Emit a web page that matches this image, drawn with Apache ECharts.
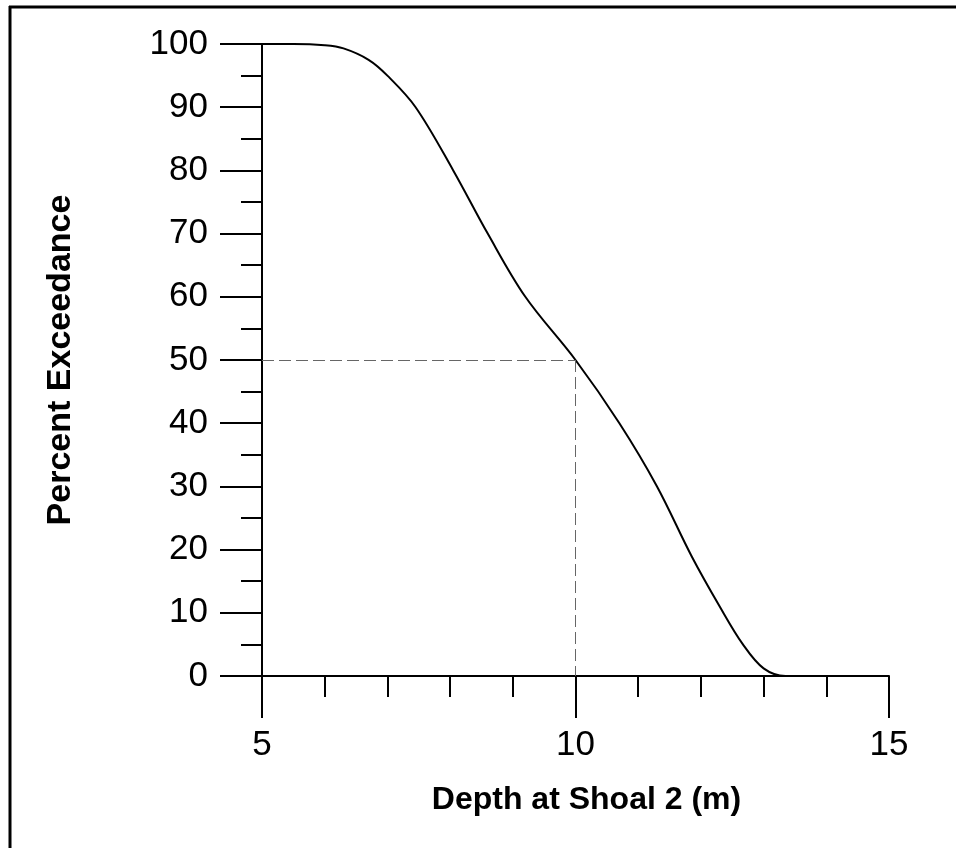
<!DOCTYPE html>
<html>
<head>
<meta charset="utf-8">
<script src="https://cdn.jsdelivr.net/npm/echarts@6/dist/echarts.min.js"></script>
<style>
  html, body { margin: 0; padding: 0; background: #fff; }
  #chart { width: 956px; height: 848px; }
</style>
</head>
<body>
<div id="chart"></div>
<script>
// depth (m) vs percent exceedance
const depth = [5, 5.5, 6, 6.3, 6.7, 7, 7.45, 8.05, 8.6, 9.2, 10, 10.7, 11.3, 11.85, 12.3, 12.67, 13, 13.35, 15];
const exceed = [100, 100, 99.8, 99.3, 97.5, 95, 90, 80, 70, 60, 50, 40, 30, 19, 11, 5, 1.2, 0, 0];
// 50% exceedance guide
const guideDepth = 10;
const guidePct = 50;

const chart = echarts.init(document.getElementById('chart'));

const fontFam = '"Liberation Sans", Arial, sans-serif';

const option = {
   animation: false,
   backgroundColor: '#fff',
   grid: { left: 262, right: 67, top: 44, bottom: 172 },
   graphic: [
      { type: 'line', shape: { x1: 9, y1: 7, x2: 956, y2: 7 }, style: { stroke: '#000', lineWidth: 3 } },
      { type: 'line', shape: { x1: 10, y1: 6, x2: 10, y2: 848 }, style: { stroke: '#000', lineWidth: 3 } }
   ],
   xAxis: {
      type: 'value',
      min: 5,
      max: 15,
      interval: 5,
      name: 'Depth at Shoal 2 (m)',
      nameLocation: 'middle',
      nameGap: 108,
      nameTextStyle: { fontFamily: fontFam, fontWeight: 'bold', fontSize: 32, color: '#000', padding: [0, 0, 0, 22] },
      axisLine: { lineStyle: { color: '#000', width: 2 } },
      axisTick: { length: 42, lineStyle: { color: '#000', width: 2 } },
      minorTick: { show: true, splitNumber: 5, length: 21, lineStyle: { color: '#000', width: 2 } },
      axisLabel: { margin: 52, fontFamily: fontFam, fontSize: 35, color: '#000' },
      splitLine: { show: false }
   },
   yAxis: {
      type: 'value',
      min: 0,
      max: 100,
      interval: 10,
      name: 'Percent Exceedance',
      nameLocation: 'middle',
      nameGap: 184,
      nameTextStyle: { fontFamily: fontFam, fontWeight: 'bold', fontSize: 34, color: '#000' },
      axisLine: { show: true, lineStyle: { color: '#000', width: 2 } },
      axisTick: { show: true, length: 42, lineStyle: { color: '#000', width: 2 } },
      minorTick: { show: true, splitNumber: 2, length: 21, lineStyle: { color: '#000', width: 2 } },
      axisLabel: { margin: 54, fontFamily: fontFam, fontSize: 35, color: '#000' },
      splitLine: { show: false }
   },
   series: [
      {
         type: 'line',
         data: depth.map((d, i) => [d, exceed[i]]),
         smooth: 0.35,
         showSymbol: false,
         lineStyle: { color: '#000', width: 2 },
         markLine: {
            silent: true,
            symbol: 'none',
            label: { show: false },
            lineStyle: { color: '#666', width: 1, type: [12, 5] },
            data: [
               [ { coord: [5, guidePct] }, { coord: [guideDepth, guidePct] } ],
               [ { coord: [guideDepth, guidePct] }, { coord: [guideDepth, 0] } ]
            ]
         }
      }
   ]
};
chart.setOption(option);
</script>
</body>
</html>
